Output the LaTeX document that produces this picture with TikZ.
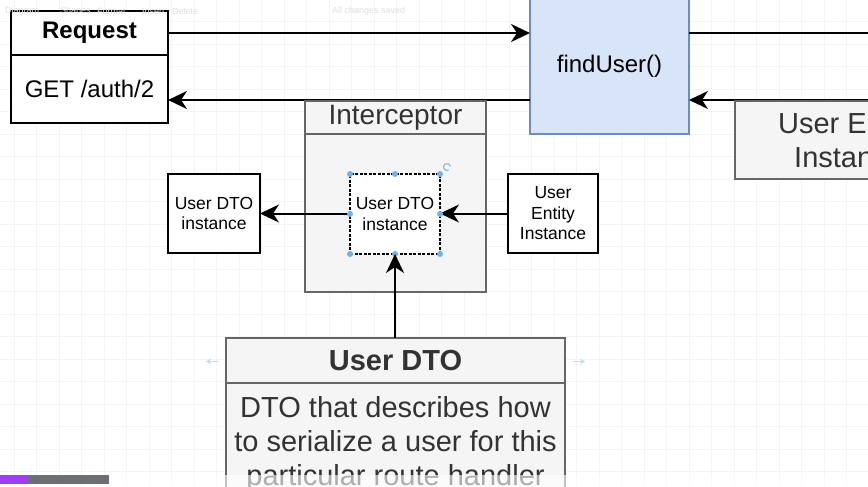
\documentclass[tikz,border=0pt]{standalone}
\usepackage{fontspec}
\setmainfont{Liberation Sans}
\usetikzlibrary{positioning,calc,arrows.meta}

\definecolor{boxgray}{HTML}{F5F5F5}
\definecolor{edgegray}{HTML}{666666}
\definecolor{txtgray}{HTML}{333333}
\definecolor{findblue}{HTML}{D8E4F8}
\definecolor{findedge}{HTML}{6C8EBF}
\definecolor{handle}{HTML}{6FB3E8}
\definecolor{barpurple}{HTML}{A23CF0}
\definecolor{bargray}{HTML}{6B6E73}

\tikzset{
  plainbox/.style={draw=black, line width=2pt, fill=white, inner sep=0pt, outer sep=0pt, align=center},
  graybox/.style={draw=edgegray, line width=2pt, fill=boxgray, text=txtgray, inner sep=0pt, outer sep=0pt, align=center},
  arr/.style={line width=2pt, -{Stealth[length=19pt,width=18pt,inset=6pt]}},
  gridline/.style={gray!9, line width=0.8pt},
  bigtext/.style={font=\fontsize{24}{30}\selectfont},
  hugetext/.style={font=\fontsize{29}{34}\selectfont},
  smalltext/.style={font=\fontsize{17.5}{20.5}\selectfont},
  menutext/.style={text=gray!25, font=\fontsize{9}{10}\selectfont, anchor=west, inner sep=0pt},
}

\begin{document}
\begin{tikzpicture}[x=1pt, y=-1pt]
    \useasboundingbox (0,0) rectangle (868,487);
    \clip (0,0) rectangle (868,487);
    \fill[white] (0,0) rectangle (868,487);

    % canvas grid
    \foreach \gx in {0,...,38}
        \draw[gridline] ({14+22.5*\gx},0) -- ++(0,487);
    \foreach \gy in {1,...,21}
        \draw[gridline] (0,{-0.8+22.5*\gy}) -- ++(868,0);

    % request
    \node[plainbox, minimum width=157, minimum height=44, font=\fontsize{24}{28}\selectfont\bfseries] (reqhead) at (89.5,33) {\raisebox{-2pt}{Request}};
    \node[plainbox, minimum width=157, minimum height=68, bigtext] (reqbody) at (89.5,89) {GET /auth/2};

    % handler
    \node[draw=findedge, line width=2pt, fill=findblue, inner sep=0pt, outer sep=0pt,
          minimum width=159, minimum height=136, bigtext] (find) at (609.5,66) {findUser()};

    \coordinate (outR) at (880,33);
    \coordinate (inR) at (880,100);
    \draw[arr] (reqhead.east) -- (reqhead.east -| find.west);
    \draw[line width=2pt] (reqhead -| find.east) -- (outR);
    \draw[arr] (inR) -- (inR -| find.east);
    \draw[arr] (find.west |- inR) -- (inR -| reqbody.east);

    \node[graybox, minimum width=228, minimum height=78, hugetext] (entity) at (849,140) {User Entity\\Instance};

    % interceptor
    \node[graybox, minimum width=181, minimum height=33, font=\fontsize{28}{32}\selectfont] (ihead) at (395.5,117.5) {Interceptor};
    \node[graybox, minimum width=181, minimum height=158, below=0pt of ihead] (ibody) {};

    \node[draw=black, dash pattern=on 3pt off 1.5pt, line width=1.6pt, fill=white, inner sep=0pt, outer sep=0pt, align=center,
          minimum width=90, minimum height=80, smalltext] (inner) at (395,214) {User DTO\\instance};
    \node[plainbox, minimum width=92, minimum height=79, smalltext] (dtoout) at (214,213.5) {User DTO\\instance};
    \node[plainbox, minimum width=90, minimum height=79, smalltext] (entin) at (553,213.5) {User\\Entity\\Instance};

    \draw[arr] (entin.west) -- (entin.west -| inner.east);
    \draw[arr] (inner.west |- dtoout.east) -- (dtoout.east);

    % selection handles
    \foreach \a in {north west, north, north east, east, south east, south, south west, west}
        \fill[handle] (inner.\a) circle (3pt);
    \draw[handle, line width=1pt] ($(inner.north east)+(7,-7)$) ++(60:3.5) arc (60:350:3.5);

    % user dto class
    \node[graybox, minimum width=339, minimum height=45, font=\fontsize{29}{34}\selectfont\bfseries] (dtohead) at (395.5,360.5) {User DTO};
    \node[graybox, minimum width=339, minimum height=122, hugetext, below=0pt of dtohead] (dtobody)
        {DTO that describes how\\to serialize a user for this\\particular route handler};

    \draw[arr] (inner.south |- dtohead.north) -- (inner.south);

    \draw[handle!45, line width=1.5pt, -{Stealth[length=5pt,width=6pt]}] ($(dtohead.west)+(-8,1)$) -- ++(-12,0);
    \draw[handle!45, line width=1.5pt, -{Stealth[length=5pt,width=6pt]}] ($(dtohead.east)+(8,1)$) -- ++(12,0);

    % editor overlay
    \fill[white, opacity=0.6] (0,475) rectangle (868,487);
    \fill[barpurple] (0,475) rectangle (28,484);
    \fill[bargray] (28,475) rectangle (109,484);

    \node[menutext] (mdiagram) at (5,11) {Diagram};
    \node[menutext] (mshapes) at (60,11) {Shapes};
    \node[menutext] (mformat) at (97,11) {Format};
    \node[menutext] (minsert) at (142,11) {Insert};
    \node[menutext] (mdelete) at (172,11) {Delete};
    \node[menutext] (msaved) at (332,11) {All changes saved};
\end{tikzpicture}
\end{document}
